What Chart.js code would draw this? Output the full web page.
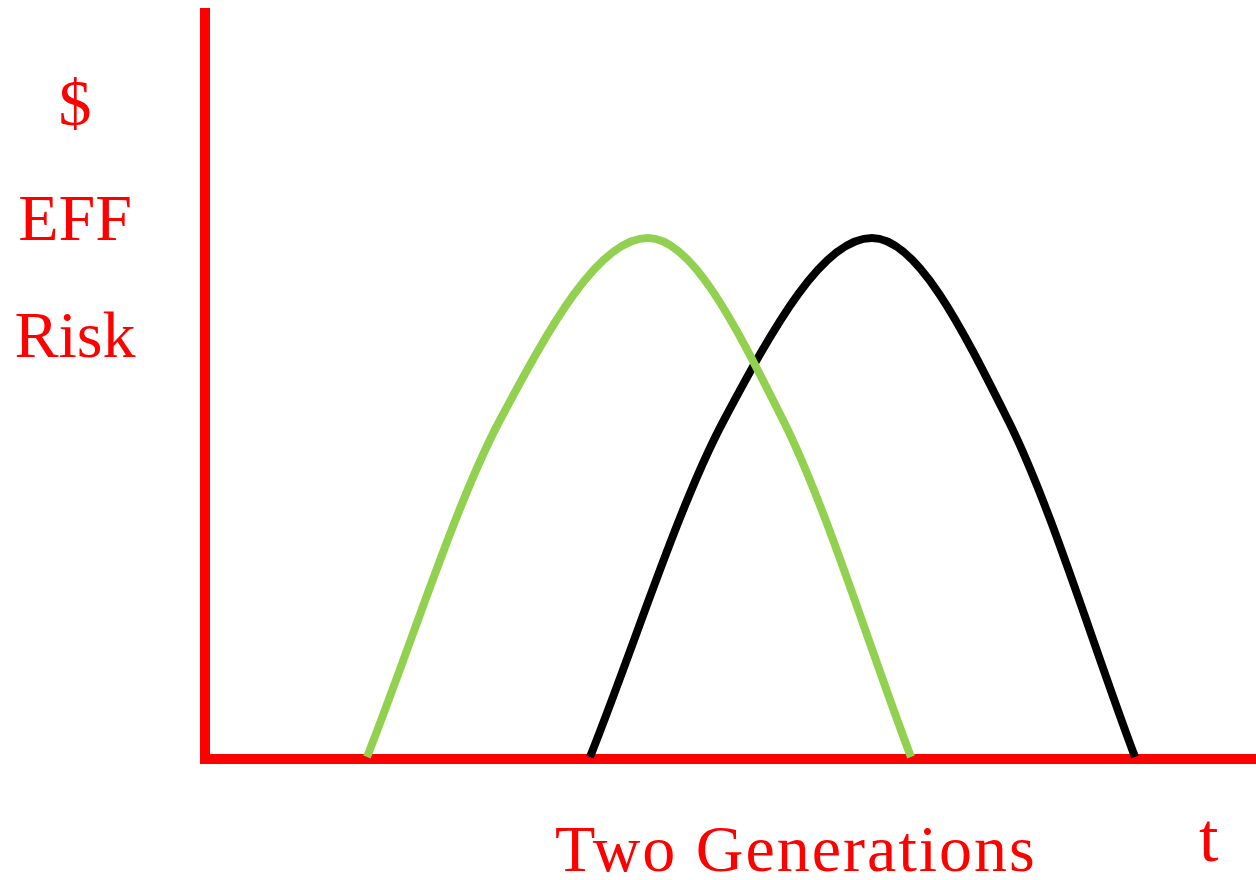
<!DOCTYPE html>
<html>
<head>
<meta charset="utf-8">
<title>Two Generations</title>
<script src="https://cdn.jsdelivr.net/npm/chart.js@4"></script>
<style>
  html, body { margin: 0; padding: 0; background: #fff; }
  #wrap { width: 1256px; height: 880px; position: relative; }
</style>
</head>
<body>
<div id="wrap"><canvas id="genChart" width="1256" height="880"></canvas></div>
<script>
// time axis (t) and value axis ($ / EFF / Risk), units
const firstGenT = [16.2, 29.5, 44.3, 57.8, 70.6];
const firstGenV = [0.2, 33.9, 52.1, 33.9, 0.2];

const secondGenT = [38.5, 51.9, 66.7, 80.3, 93.0];
const secondGenV = [0.2, 33.9, 52.1, 33.9, 0.2];

const yLabels = ["$", "EFF", "Risk"];
const xLabel = "Two Generations";
const tLabel = "t";

document.addEventListener("DOMContentLoaded", function () {
  const red = "#ff0000";

  function toPoints(ts, vs) {
    return ts.map(function (t, i) {
      return { x: t, y: vs[i] };
    });
  }

  // labels drawn on the canvas next to the axes
  const axisText = {
    id: "axisText",
    afterDraw: function (chart) {
      const ctx = chart.ctx;
      ctx.save();
      ctx.fillStyle = red;
      ctx.font = '66px "Liberation Serif", "Times New Roman", serif';
      ctx.textAlign = "center";
      ctx.textBaseline = "alphabetic";
      const baselines = [125, 240, 357];
      yLabels.forEach(function (txt, i) {
        ctx.fillText(txt, 75, baselines[i]);
      });
      ctx.textAlign = "left";
      ctx.letterSpacing = "2px";
      ctx.fillText(xLabel, 555, 871);
      ctx.letterSpacing = "0px";
      ctx.font = '70px "Liberation Serif", "Times New Roman", serif';
      ctx.fillText(tLabel, 1199, 861);
      ctx.restore();
    },
  };

  const ctx = document.getElementById("genChart").getContext("2d");
  new Chart(ctx, {
    type: "line",
    data: {
      datasets: [
        {
          label: "Generation 1",
          data: toPoints(firstGenT, firstGenV),
          borderColor: "#92d050",
          borderWidth: 8,
          pointRadius: 0,
          fill: false,
          cubicInterpolationMode: "monotone",
        },
        {
          label: "Generation 2",
          data: toPoints(secondGenT, secondGenV),
          borderColor: "#000000",
          borderWidth: 8,
          pointRadius: 0,
          fill: false,
          cubicInterpolationMode: "monotone",
        },
      ],
    },
    options: {
      responsive: false,
      animation: false,
      layout: {
        padding: { left: 205, right: 0, top: 13, bottom: 121 },
      },
      plugins: {
        legend: { display: false },
        tooltip: { enabled: false },
        title: { display: false },
      },
      scales: {
        x: {
          type: "linear",
          min: 0,
          max: 105.1,
          ticks: { display: false },
          grid: { display: false, drawTicks: false },
          border: { display: true, color: red, width: 10 },
        },
        y: {
          min: 0,
          max: 74.6,
          ticks: { display: false },
          grid: { display: false, drawTicks: false },
          border: { display: true, color: red, width: 10 },
        },
      },
    },
    plugins: [axisText],
  });
});
</script>
</body>
</html>
